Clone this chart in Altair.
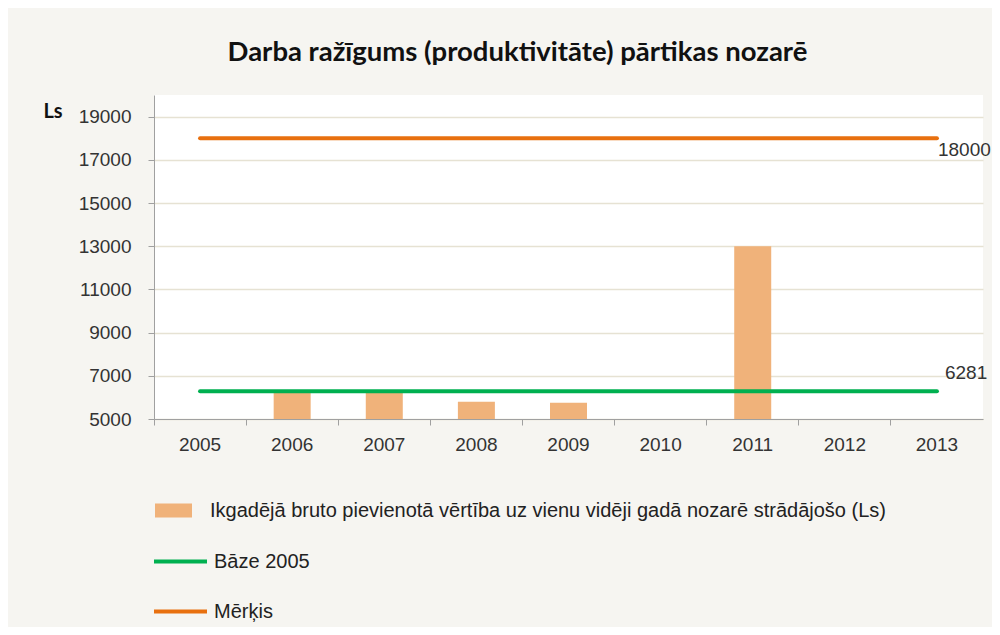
import altair as alt
import pandas as pd

years = ["2005", "2006", "2007", "2008", "2009", "2010", "2011", "2012", "2013"]
bar_values = [None, 6250, 6250, 5800, 5750, None, 13000, None, None]
base_values = [6281, 6281, 6281, 6281, 6281, 6281, 6281, 6281, 6281]
target_values = [18000, 18000, 18000, 18000, 18000, 18000, 18000, 18000, 18000]
y_ticks = [5000, 7000, 9000, 11000, 13000, 15000, 17000, 19000]

bar_name = "Ikgadējā bruto pievienotā vērtība uz vienu vidēji gadā nozarē strādājošo (Ls)"
base_name = "Bāze 2005"
target_name = "Mērķis"
title_text = "Darba ražīgums (produktivitāte) pārtikas nozarē"

bars_df = pd.DataFrame({"year": years, "value": bar_values, "series": bar_name})
lines_df = pd.concat([
    pd.DataFrame({"year": years, "value": base_values, "series": base_name}),
    pd.DataFrame({"year": years, "value": target_values, "series": target_name}),
])
lab_target = pd.DataFrame({"year": [years[-1]], "value": [target_values[-1]], "label": [str(target_values[-1])]})
lab_base = pd.DataFrame({"year": [years[-1]], "value": [base_values[-1]], "label": [str(base_values[-1])]})

FONT = "Liberation Sans"
TXT = "#333333"

x_enc = alt.X("year:N", sort=years,
              scale=alt.Scale(paddingInner=0, paddingOuter=0),
              axis=alt.Axis(title=None, bandPosition=0, labelAngle=0,
                            labelFont=FONT, labelFontSize=19, labelColor=TXT,
                            labelPadding=10, tickSize=6, tickColor="#a0a0a0",
                            domainColor="#a0a0a0", grid=False))
y_scale = alt.Scale(domain=[5000, 20000], zero=False, nice=False)

bars = alt.Chart(bars_df).mark_bar(size=37, color="#f0b27a").encode(
    x=x_enc,
    y=alt.Y("value:Q", scale=y_scale,
            axis=alt.Axis(values=y_ticks, format="d", title="Ls", titleAngle=0, titleX=-111, titleY=22,
                          titleAlign="left", titleBaseline="alphabetic",
                          titleFont="Lato", titleFontSize=20, titleFontWeight="bold",
                          titleColor="#111111",
                          labelFont=FONT, labelFontSize=19, labelColor=TXT,
                          labelPadding=17, tickSize=6, tickColor="#a0a0a0",
                          domainColor="#a0a0a0", gridColor="#e6e2d3", gridWidth=1.5)),
    y2=alt.datum(5000),
    fill=alt.Fill("series:N", scale=alt.Scale(domain=[bar_name], range=["#f0b27a"]),
                  legend=alt.Legend(title=None, orient="none", legendX=1, legendY=397,
                                    symbolType="M-1,-0.378H1V0.378H-1Z", symbolSize=1369,
                                    symbolStrokeWidth=0, labelOffset=18, padding=0, labelLimit=0,
                                    labelFont=FONT, labelFontSize=20, labelColor="#222222")),
)

lines = alt.Chart(lines_df).mark_line(strokeWidth=4, strokeCap="round").encode(
    x=alt.X("year:N", sort=years),
    y=alt.Y("value:Q", scale=y_scale),
    stroke=alt.Stroke("series:N", sort=[base_name, target_name],
                      scale=alt.Scale(domain=[base_name, target_name], range=["#00b050", "#e8700f"]),
                      legend=alt.Legend(title=None, orient="none", legendX=-2, legendY=438,
                                        symbolType="stroke", symbolSize=2809, symbolStrokeWidth=4,
                                        labelOffset=5, rowPadding=11, padding=0, labelLimit=0,
                                        labelFont=FONT, labelFontSize=20, labelColor="#222222")),
)

t1 = alt.Chart(lab_target).mark_text(align="left", baseline="middle", dx=1, dy=12,
                                     font=FONT, fontSize=19, color=TXT).encode(
    x=alt.X("year:N", sort=years), y=alt.Y("value:Q", scale=y_scale), text="label:N")
t2 = alt.Chart(lab_base).mark_text(align="left", baseline="middle", dx=8, dy=-18,
                                   font=FONT, fontSize=19, color=TXT).encode(
    x=alt.X("year:N", sort=years), y=alt.Y("value:Q", scale=y_scale), text="label:N")

chart = alt.layer(bars, lines, t1, t2).properties(
    width=829, height=324,
    title=alt.TitleParams(title_text, font="Lato", fontSize=27.5, fontWeight="bold",
                          color="#111111", anchor="middle", dx=-51, offset=29),
    autosize=alt.AutoSizeParams(type="none"),
    padding={"left": 146, "top": 87, "right": 9, "bottom": 208},
    background="#f6f5f1",
).resolve_scale(x="shared", y="shared").configure_view(fill="white", stroke=None)

chart.save("out.html", embed_options={"renderer": "svg", "actions": False})
